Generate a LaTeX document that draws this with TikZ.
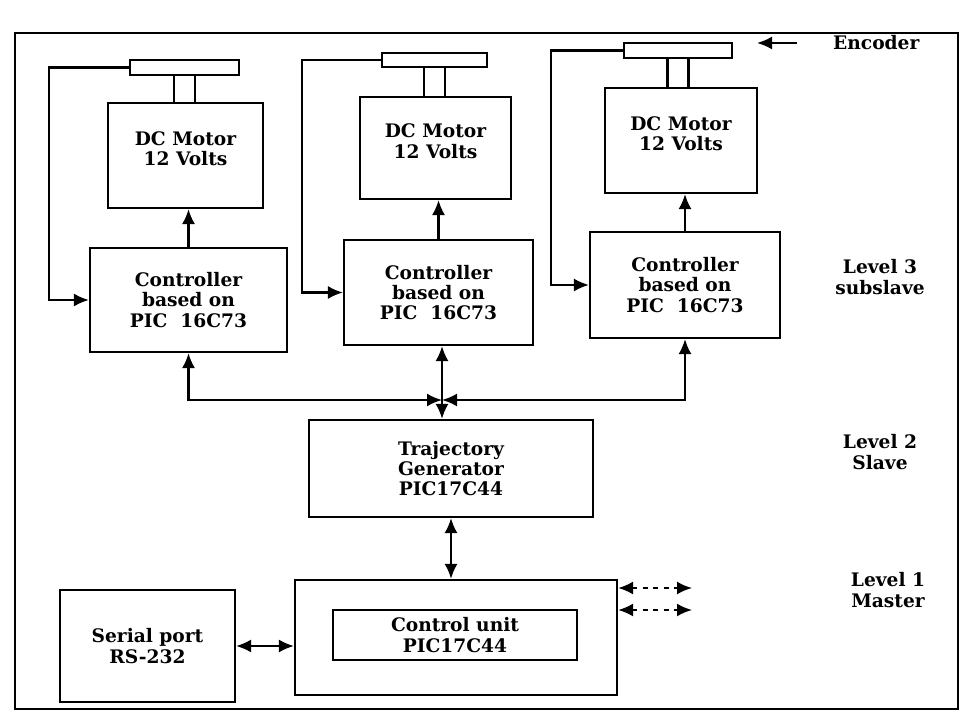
\documentclass[tikz,border=0pt]{standalone}
\usepackage{fontspec}
\setmainfont{DejaVu Serif}
\usepackage{tikz}
\usetikzlibrary{positioning,arrows.meta,calc}

\begin{document}
\begin{tikzpicture}[
  block/.style={rectangle, draw, line width=1.2pt, align=center, font=\fontsize{10.6}{11.6}\selectfont\bfseries, inner sep=2pt},
  motorbox/.style={block, text depth=0.28cm},
  encbar/.style={rectangle, draw, line width=1.2pt, inner sep=0pt},
  lvl/.style={align=center, font=\fontsize{10.6}{11.6}\selectfont\bfseries},
  arrow/.style={-{Latex[length=3mm,width=2.6mm]}, line width=1.2pt},
  dblarrow/.style={{Latex[length=3mm,width=2.6mm]}-{Latex[length=3mm,width=2.6mm]}, line width=1.2pt}
]
  \useasboundingbox (0,0) rectangle (19.34,-14.44);
  % Frame
  \draw[line width=1.3pt] (0.3,-0.66) rectangle (19.16,-14.18);

  % Motors with encoders
  \node[motorbox, minimum width=3.1cm, minimum height=2.1cm] (mot1) at (3.71,-3.11) {DC Motor\\12 Volts};
  \node[motorbox, minimum width=3.02cm, minimum height=2.04cm] (mot2) at (8.71,-2.96) {DC Motor\\12 Volts};
  \node[motorbox, minimum width=3.04cm, minimum height=2.1cm] (mot3) at (13.62,-2.81) {DC Motor\\12 Volts};
  \node[encbar, minimum width=2.18cm, minimum height=0.3cm] (enc1) at (3.69,-1.35) {};
  \node[encbar, minimum width=2.1cm, minimum height=0.28cm] (enc2) at (8.69,-1.2) {};
  \node[encbar, minimum width=2.16cm, minimum height=0.3cm] (enc3) at (13.56,-1.01) {};

  % Level 3 controllers
  \node[block, minimum width=3.94cm, minimum height=2.08cm] (ctl1) at (3.77,-6.0) {Controller\\based on\\PIC\ \ 16C73};
  \node[block, minimum width=3.78cm, minimum height=2.1cm] (ctl2) at (8.77,-5.85) {Controller\\based on\\PIC\ \ 16C73};
  \node[block, minimum width=3.8cm, minimum height=2.12cm] (ctl3) at (13.7,-5.7) {Controller\\based on\\PIC\ \ 16C73};

  % Level 2 and level 1
  \node[block, minimum width=5.68cm, minimum height=1.94cm] (traj) at (9.02,-9.37) {Trajectory\\Generator\\PIC17C44};
  \node[block, minimum width=6.44cm, minimum height=2.3cm] (cu) at (9.12,-12.75) {};
  \node[block, minimum width=4.88cm, minimum height=1.0cm] (cuin) at (9.1,-12.7) {Control unit\\PIC17C44};
  \node[block, minimum width=3.5cm, minimum height=2.24cm] (serial) at (2.95,-12.92) {Serial port\\RS-232};

  % Labels
  \node[lvl, anchor=west] (enclabel) at (16.54,-0.86) {Encoder};
  \node[lvl] (lvl3) at (17.6,-5.54) {Level 3\\subslave};
  \node[lvl] (lvl2) at (17.6,-9.04) {Level 2\\Slave};
  \node[lvl] (lvl1) at (17.76,-11.8) {Level 1\\Master};

  \coordinate (encA) at (15.94,-0.86);
  \coordinate (encB) at (15.14,-0.86);
  \coordinate (bus) at (8.84,-8.0);
  \coordinate (out1) at (13.84,-11.76);
  \coordinate (out2) at (13.84,-12.2);

  % Shafts
  \foreach \n in {1,2,3} {
    \draw[line width=1.2pt] ([xshift=-0.21cm]enc\n.south) -- ([xshift=-0.21cm]enc\n.south |- mot\n.north);
    \draw[line width=1.2pt] ([xshift=0.21cm]enc\n.south) -- ([xshift=0.21cm]enc\n.south |- mot\n.north);
    \draw[arrow] (ctl\n.north) -- (ctl\n.north |- mot\n.south);
  }

  % Encoder feedback
  \draw[arrow] (enc1.west) -- ++(-1.6,0) |- (ctl1.west);
  \draw[arrow] (enc2.west) -- ++(-1.58,0) |- (ctl2.west);
  \draw[arrow] (enc3.west) -- ++(-1.44,0) |- (ctl3.west);
  \draw[arrow] (encA) -- (encB);

  % Bus
  \draw[dblarrow] (bus) -| (ctl1.south);
  \draw[dblarrow] (bus) -| (ctl3.south);
  \draw[arrow] (bus) -- (bus |- ctl2.south);
  \draw[arrow] (bus) -- (bus |- traj.north);

  \draw[dblarrow] (traj.south) -- (traj.south |- cu.north);
  \draw[dblarrow] (serial.east) -- (serial.east -| cu.west);
  \draw[dblarrow, dashed] (cu.north east |- out1) -- (out1);
  \draw[dblarrow, dashed] (cu.north east |- out2) -- (out2);
\end{tikzpicture}
\end{document}
